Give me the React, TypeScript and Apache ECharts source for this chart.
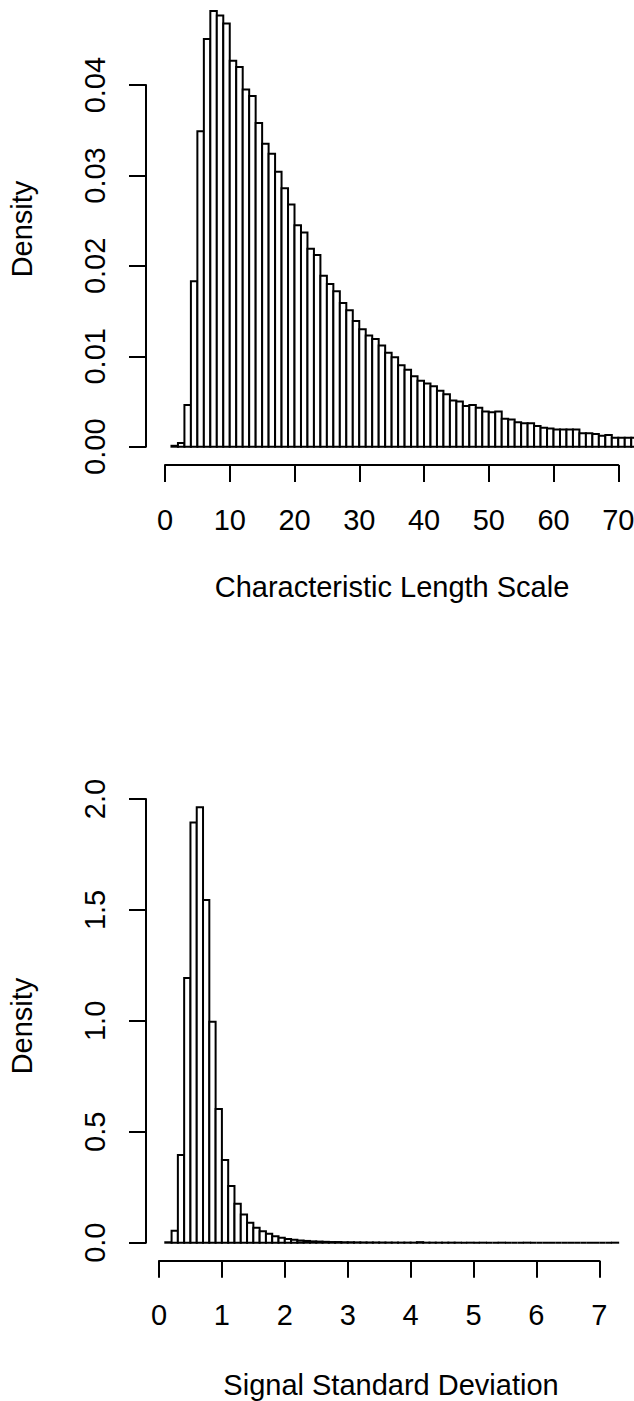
import React, { useEffect, useRef } from "react";
import * as echarts from "echarts";

// ---- Histogram 1: Characteristic Length Scale (bins of width 1 starting at 1)
const lengthBinStart = 1;
const lengthBinWidth = 1;
const lengthDensity = [
  0.0001, 0.0004, 0.0046, 0.0183, 0.0349, 0.0451, 0.0482, 0.0477, 0.0468, 0.0427,
  0.042, 0.0395, 0.0388, 0.0358, 0.0335, 0.0324, 0.0304, 0.0286, 0.0268, 0.0245,
  0.0237, 0.0219, 0.0212, 0.0189, 0.018, 0.0172, 0.0159, 0.0151, 0.0139, 0.013,
  0.0123, 0.0119, 0.0112, 0.0104, 0.0099, 0.009, 0.0085, 0.0078, 0.0073, 0.007,
  0.0067, 0.0062, 0.0058, 0.0051, 0.005, 0.0045, 0.0046, 0.0043, 0.0039, 0.0038,
  0.0039, 0.0031, 0.003, 0.0027, 0.0026, 0.0026, 0.0023, 0.0021, 0.002, 0.0019,
  0.0019, 0.0019, 0.0019, 0.0015, 0.0015, 0.0014, 0.0012, 0.0013, 0.001, 0.001,
  0.001, 0.001,
];
const lengthXTicks = [0, 10, 20, 30, 40, 50, 60, 70];
const lengthYTicks = [0, 0.01, 0.02, 0.03, 0.04];

// ---- Histogram 2: Signal Standard Deviation (bins of width 0.1 starting at 0.1)
const sdBinStart = 0.1;
const sdBinWidth = 0.1;
const sdDensity = [
  0.002, 0.054, 0.395, 1.193, 1.894, 1.963, 1.545, 0.996, 0.603, 0.373,
  0.256, 0.176, 0.127, 0.09, 0.067, 0.052, 0.04, 0.029, 0.022, 0.017,
  0.013, 0.01, 0.008, 0.006, 0.005, 0.004, 0.003, 0.003, 0.002, 0.002,
  0.0015, 0.0012, 0.001, 0.001, 0.0008, 0.0006, 0.0005, 0.0004, 0.0004, 0.0003,
  0.0025, 0.0002, 0.0002, 0.0001, 0.0001, 0.0002, 0.0001, 0, 0.0001, 0,
  0.0001, 0, 0, 0.0001, 0, 0, 0, 0.0001, 0, 0,
  0, 0, 0, 0, 0, 0, 0, 0, 0, 0,
  0, 0.0001,
];
const sdXTicks = [0, 1, 2, 3, 4, 5, 6, 7];
const sdYTicks = [0, 0.5, 1, 1.5, 2];

const FONT = "'Liberation Sans', Arial, Helvetica, sans-serif";
const FS = 29;
const LW = 2;

function bins(start: number, width: number, dens: number[]) {
  return dens.map((d, i) => [start + i * width, start + (i + 1) * width, d]);
}

const renderHist = (params: any, api: any) => {
  const p0 = api.coord([api.value(0), 0]);
  const p1 = api.coord([api.value(1), api.value(2)]);
  return {
    type: "rect",
    shape: { x: p0[0], y: p1[1], width: p1[0] - p0[0], height: p0[1] - p1[1] },
    style: { fill: "#fff", stroke: "#000", lineWidth: LW },
  };
};

const hidden = { show: false };

function tickAxis(extra: any) {
  return {
    type: "value",
    axisLine: { show: true, lineStyle: { color: "#000", width: LW } },
    axisTick: { show: true, inside: false, length: 17, lineStyle: { color: "#000", width: LW } },
    splitLine: { show: false },
    axisLabel: { color: "#000", fontSize: FS, fontFamily: FONT },
    ...extra,
  };
}

export default function App() {
  const ref = useRef<HTMLDivElement>(null);
  useEffect(() => {
    if (!ref.current) return;
    const chart = echarts.init(ref.current, null, { renderer: "svg" });
    const lenStep = lengthXTicks[1] - lengthXTicks[0];
    const lenYStep = lengthYTicks[1] - lengthYTicks[0];
    const sdStep = sdXTicks[1] - sdXTicks[0];
    const sdYStep = sdYTicks[1] - sdYTicks[0];
    const option: any = {
      animation: false,
      backgroundColor: "#fff",
      grid: [
        { left: 165, top: 3.7, width: 472.7, height: 443 },
        { left: 165, top: 464, width: 453.25, height: 1 },
        { left: 146, top: 85.1, width: 1, height: 361.6 },
        { left: 159, top: 776.9, width: 471.75, height: 465.8 },
        { left: 159, top: 1259.7, width: 440.3, height: 1 },
        { left: 146, top: 799, width: 1, height: 443.7 },
      ],
      xAxis: [
        { type: "value", gridIndex: 0, min: 0, max: 73, ...hidden },
        tickAxis({
          gridIndex: 1,
          min: lengthXTicks[0],
          max: lengthXTicks[lengthXTicks.length - 1],
          interval: lenStep,
          axisLabel: { color: "#000", fontSize: FS, fontFamily: FONT, margin: 40 },
        }),
        { type: "value", gridIndex: 2, ...hidden },
        { type: "value", gridIndex: 3, min: 0, max: 7.5, ...hidden },
        tickAxis({
          gridIndex: 4,
          min: sdXTicks[0],
          max: sdXTicks[sdXTicks.length - 1],
          interval: sdStep,
          axisLabel: { color: "#000", fontSize: FS, fontFamily: FONT, margin: 40 },
        }),
        { type: "value", gridIndex: 5, ...hidden },
      ],
      yAxis: [
        { type: "value", gridIndex: 0, min: 0, max: 0.049, ...hidden },
        { type: "value", gridIndex: 1, ...hidden },
        tickAxis({
          gridIndex: 2,
          min: lengthYTicks[0],
          max: lengthYTicks[lengthYTicks.length - 1],
          interval: lenYStep,
          axisLabel: {
            color: "#000",
            fontSize: FS,
            fontFamily: FONT,
            rotate: 90,
            margin: 37,
            formatter: (v: number) => v.toFixed(2),
          },
        }),
        { type: "value", gridIndex: 3, min: 0, max: 2.1, ...hidden },
        { type: "value", gridIndex: 4, ...hidden },
        tickAxis({
          gridIndex: 5,
          min: sdYTicks[0],
          max: sdYTicks[sdYTicks.length - 1],
          interval: sdYStep,
          axisLabel: {
            color: "#000",
            fontSize: FS,
            fontFamily: FONT,
            rotate: 90,
            margin: 37,
            formatter: (v: number) => v.toFixed(1),
          },
        }),
      ],
      series: [
        {
          type: "custom",
          xAxisIndex: 0,
          yAxisIndex: 0,
          renderItem: renderHist,
          encode: { x: [0, 1], y: 2 },
          data: bins(lengthBinStart, lengthBinWidth, lengthDensity),
          clip: false,
        },
        {
          type: "custom",
          xAxisIndex: 3,
          yAxisIndex: 3,
          renderItem: renderHist,
          encode: { x: [0, 1], y: 2 },
          data: bins(sdBinStart, sdBinWidth, sdDensity),
          clip: false,
        },
      ],
      graphic: [
        {
          type: "text",
          x: 392,
          y: 586.5,
          style: { text: "Characteristic Length Scale", font: `${FS}px ${FONT}`, fill: "#000", textAlign: "center", textVerticalAlign: "middle" },
        },
        {
          type: "text",
          x: 391,
          y: 1385,
          style: { text: "Signal Standard Deviation", font: `${FS}px ${FONT}`, fill: "#000", textAlign: "center", textVerticalAlign: "middle" },
        },
        {
          type: "text",
          x: 22,
          y: 229,
          rotation: Math.PI / 2,
          style: { text: "Density", font: `${FS}px ${FONT}`, fill: "#000", textAlign: "center", textVerticalAlign: "middle" },
        },
        {
          type: "text",
          x: 22,
          y: 1026,
          rotation: Math.PI / 2,
          style: { text: "Density", font: `${FS}px ${FONT}`, fill: "#000", textAlign: "center", textVerticalAlign: "middle" },
        },
      ],
    };
    chart.setOption(option);
    return () => chart.dispose();
  }, []);
  return (
    <div style={{ position: "absolute", left: 0, top: 0, width: 634, height: 1401, overflow: "hidden", background: "#fff" }}>
      <div ref={ref} style={{ width: 700, height: 1401 }} />
    </div>
  );
}
